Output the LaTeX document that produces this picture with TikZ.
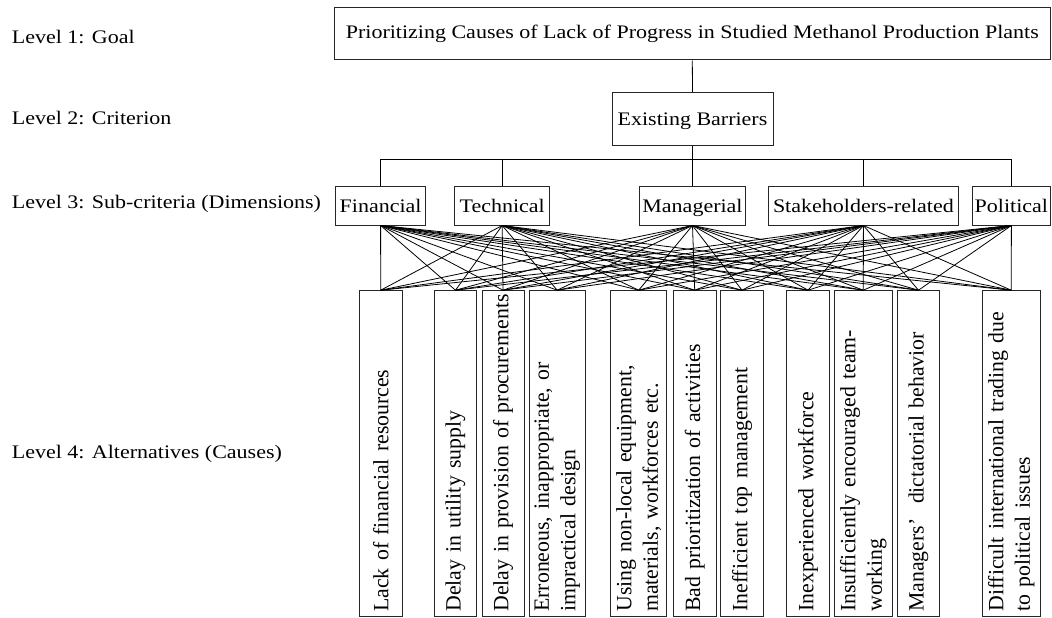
\documentclass[tikz,border=0pt]{standalone}
\usepackage{fontspec}
\setmainfont{Liberation Serif}
\newcommand{\sqz}[1]{\scalebox{1}[0.87]{#1}}
\tikzset{
  txt/.style={font=\fontsize{22}{26.5}\selectfont},
  box/.style={draw=black!85, line width=1pt, inner sep=0pt, align=center, txt,
    text height=16pt, text depth=3pt},
  crit/.style={box, minimum height=39pt},
  alt/.style={draw=black!85, line width=1pt, rotate=90, minimum width=326pt,
    text width=316pt, inner xsep=5pt, inner ysep=0pt, align=left,
    font=\fontsize{21.8}{26.5}\selectfont},
  lvl/.style={anchor=base west, inner sep=0pt, txt},
  link/.style={line width=0.8pt}
}
\begin{document}
\begin{tikzpicture}[x=1pt, y=-1pt]
\useasboundingbox (0,0) rectangle (1052,618);
% level labels
\node[lvl] (l1) at (11.7,43.5) {\sqz{Level 1: Goal}};
\node[lvl] (l2) at (11.7,124.3) {\sqz{Level 2: Criterion}};
\node[lvl] (l3) at (11.7,208) {\sqz{Level 3: Sub-criteria (Dimensions)}};
\node[lvl] (l4) at (11.7,458) {\sqz{Level 4: Alternatives (Causes)}};
% goal and criterion
\node[box, minimum width=716.5pt, minimum height=52pt, text height=13pt, text depth=3.6pt] (goal) at (692.3,34) {\sqz{Prioritizing Causes of Lack of Progress in Studied Methanol Production Plants}};
\node[box, minimum width=161pt, minimum height=52.5pt] (eb) at (692.5,119.2) {\sqz{Existing Barriers}};
% sub-criteria
\node[crit, minimum width=90pt] (s1) at (380.6,205.5) {\sqz{Financial}};
\node[crit, minimum width=95.3pt] (s2) at (502.2,205.5) {\sqz{Technical}};
\node[crit, minimum width=105.5pt] (s3) at (692.5,205.5) {\sqz{Managerial}};
\node[crit, minimum width=190pt] (s4) at (863.4,205.5) {\sqz{Stakeholders-related}};
\node[crit, minimum width=78.2pt] (s5) at (1011.4,205.5) {\sqz{Political}};
% alternatives
\node[alt, minimum height=42.7pt] (a1) at (380.7,453.7) {\mbox{Lack of financial resources}};
\node[alt, minimum height=42.4pt] (a2) at (455.5,453.7) {\mbox{Delay in utility supply}};
\node[alt, minimum height=42pt] (a3) at (503,453.7) {\mbox{Delay in provision of procurements}};
\node[alt, minimum height=55.7pt] (a4) at (557.2,453.7) {\mbox{Erroneous, inappropriate, or}\\\mbox{impractical design}};
\node[alt, minimum height=56pt] (a5) at (638.7,453.7) {\mbox{Using non-local equipment,}\\\mbox{materials, workforces etc.}};
\node[alt, minimum height=42.7pt] (a6) at (694.7,453.7) {\mbox{Bad prioritization of activities}};
\node[alt, minimum height=42.6pt] (a7) at (742,453.7) {\mbox{Inefficient top management}};
\node[alt, minimum height=42.6pt] (a8) at (808,453.7) {\mbox{Inexperienced workforce}};
\node[alt, minimum height=58pt] (a9) at (863.3,453.7) {\mbox{Insufficiently encouraged team-}\\\mbox{working}};
\node[alt, minimum height=41.6pt] (a10) at (918.5,453.7) {\mbox{Managers’\ \ dictatorial behavior}};
\node[alt, minimum height=57.7pt] (a11) at (1011.2,453.7) {\mbox{Difficult international trading due}\\\mbox{to political issues}};
% tree connectors
\coordinate (bus) at (0,159.8);
\draw[link] (goal.south) -- (eb.north);
\draw[link] (eb.south) -- (eb.south |- bus);
\draw[link] (s1.north) -- (s1.north |- bus) -- (s5.north |- bus) -- (s5.north);
\foreach \s in {s2,s3,s4} \draw[link] (\s.north) -- (\s.north |- bus);
% full bipartite links
\foreach \s in {s1,s2,s3,s4,s5}
  \foreach \a in {a1,a2,a3,a4,a5,a6,a7,a8,a9,a10,a11}
    \draw[link] (\s.south) -- (\a.east);
\end{tikzpicture}
\end{document}
